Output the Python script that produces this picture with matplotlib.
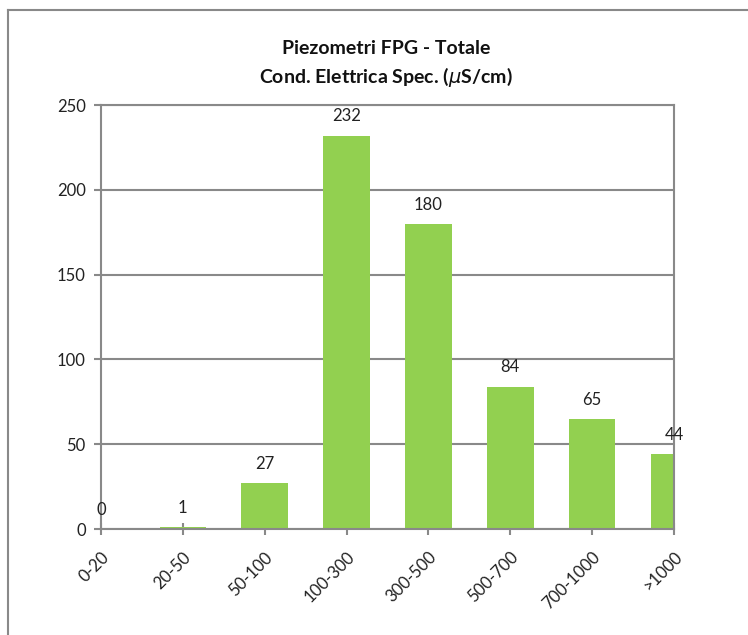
import matplotlib.pyplot as plt
from matplotlib.lines import Line2D

categories = ["0-20", "20-50", "50-100", "100-300", "300-500", "500-700", "700-1000", ">1000"]
counts = [0, 1, 27, 232, 180, 84, 65, 44]
y_ticks = [0, 50, 100, 150, 200, 250]

GREEN = "#92D050"
GRAY = "#898989"

plt.rcParams["font.family"] = ["Lato", "DejaVu Sans"]

fig = plt.figure(figsize=(7.48, 6.35), dpi=100)
ax = fig.add_axes([101 / 748, 1 - 529 / 635, (674 - 101) / 748, (529 - 105) / 635])

x = list(range(len(categories)))
ax.bar(x, counts, width=0.57, color=GREEN, edgecolor="none", zorder=2)
for xi, v in zip(x, counts):
    ax.annotate(str(v), (xi, v), xytext=(0, 8), textcoords="offset points",
                ha="center", va="bottom", fontsize=12, color="#222222",
                annotation_clip=False, zorder=4)

ax.set_xlim(0, len(categories) - 1)
ax.set_ylim(0, 250)
ax.set_yticks(y_ticks)
ax.set_xticks(x)
ax.set_xticklabels(categories, rotation=45, ha="right", rotation_mode="anchor",
                   fontsize=12, color="#222222")
ax.tick_params(axis="y", labelsize=12, labelcolor="#222222", length=5,
               width=1.5, color=GRAY, pad=6)
ax.tick_params(axis="x", direction="inout", length=9, width=1.5, color=GRAY, pad=10)
ax.yaxis.grid(True, color=GRAY, lw=1.5, zorder=1)
ax.set_axisbelow(True)
for s in ax.spines.values():
    s.set_color(GRAY)
    s.set_linewidth(1.5)

fig.text(386 / 748, 1 - 48 / 635, "Piezometri FPG - Totale", ha="center", va="center",
         fontsize=14, fontweight="bold", color="#111111")
fig.text(386 / 748, 1 - 77 / 635, r"Cond. Elettrica Spec. ($\mu$S/cm)", ha="center",
         va="center", fontsize=14, fontweight="bold", color="#111111")

# chart area border
fig.add_artist(Line2D([8 / 748, 8 / 748], [0, 1 - 10 / 635], color=GRAY, lw=1.5))
fig.add_artist(Line2D([8 / 748, 1], [1 - 10 / 635, 1 - 10 / 635], color=GRAY, lw=1.5))

fig.savefig("out.png", dpi=100)
